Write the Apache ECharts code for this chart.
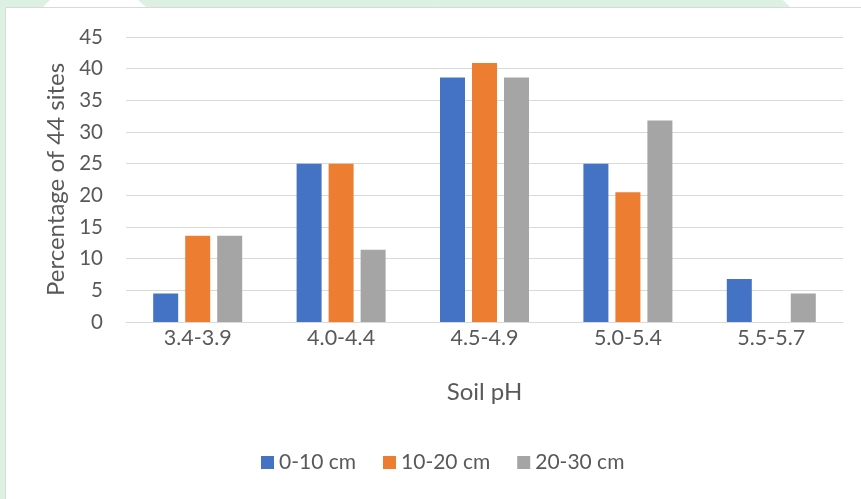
<!DOCTYPE html>
<html>
<head>
<meta charset="utf-8">
<script src="https://cdn.jsdelivr.net/npm/echarts@6/dist/echarts.min.js"></script>
<style>
  html, body { margin: 0; padding: 0; background: #ffffff; }
  #chart { width: 861px; height: 499px; }
</style>
</head>
<body>
<div id="chart"></div>
<script>
// Soil pH classes and share of the 44 sites (%) in each depth band
const categories = ['3.4-3.9', '4.0-4.4', '4.5-4.9', '5.0-5.4', '5.5-5.7'];
const depth0to10 = [4.5, 25.0, 38.6, 25.0, 6.8];
const depth10to20 = [13.6, 25.0, 40.9, 20.5, 0];
const depth20to30 = [13.6, 11.4, 38.6, 31.8, 4.5];
const seriesNames = ['0-10 cm', '10-20 cm', '20-30 cm'];
const yTicks = { min: 0, max: 45, interval: 5 };

const FONT = 'Lato, "Open Sans", sans-serif';
const TEXT = '#595959';
const LINE = '#d9d9d9';

const chart = echarts.init(document.getElementById('chart'), null, { renderer: 'canvas' });

chart.setOption({
  animation: false,
  backgroundColor: '#ffffff',
  color: ['#4472c4', '#ed7d31', '#a5a5a5'],
  graphic: [
    // page tint behind the chart frame
    { type: 'rect', z: -10, shape: { x: 0, y: 0, width: 5, height: 499 }, style: { fill: '#dcf1e1' } },
    { type: 'polygon', z: -10, shape: { points: [[0, 0], [50, 0], [43, 7], [0, 7]] }, style: { fill: '#dcf1e1' } },
    { type: 'polygon', z: -10, shape: { points: [[138, 0], [783, 0], [790, 7], [146, 7]] }, style: { fill: '#dcf1e1' } },
    // chart frame
    { type: 'rect', z: -5, shape: { x: 5.5, y: 7.5, width: 870, height: 500 }, style: { fill: '#ffffff', stroke: LINE, lineWidth: 1 } }
  ],
  grid: { left: 126, right: 18, top: 37, bottom: 177, containLabel: false },
  legend: {
    data: seriesNames,
    bottom: 21,
    left: 256,
    itemWidth: 13,
    itemHeight: 13,
    itemGap: 27,
    icon: 'rect',
    textStyle: { fontFamily: FONT, fontSize: 21, color: TEXT }
  },
  xAxis: {
    type: 'category',
    data: categories,
    name: 'Soil pH',
    nameLocation: 'middle',
    nameGap: 58,
    nameTextStyle: { fontFamily: FONT, fontSize: 24, color: TEXT },
    axisLine: { lineStyle: { color: LINE, width: 1 } },
    axisTick: { show: false },
    axisLabel: { fontFamily: FONT, fontSize: 21.5, color: TEXT, margin: 5 }
  },
  yAxis: {
    type: 'value',
    min: yTicks.min,
    max: yTicks.max,
    interval: yTicks.interval,
    name: 'Percentage of 44 sites',
    nameLocation: 'middle',
    nameGap: 57,
    nameTextStyle: { fontFamily: FONT, fontSize: 24, color: TEXT },
    axisLine: { show: false },
    axisTick: { show: false },
    axisLabel: { fontFamily: FONT, fontSize: 20.5, color: TEXT, margin: 23 },
    splitLine: { lineStyle: { color: LINE, width: 1 } }
  },
  series: [
    { name: seriesNames[0], type: 'bar', data: depth0to10, barWidth: 25, barGap: '28%' },
    { name: seriesNames[1], type: 'bar', data: depth10to20, barWidth: 25, barGap: '28%' },
    { name: seriesNames[2], type: 'bar', data: depth20to30, barWidth: 25, barGap: '28%' }
  ]
});
</script>
</body>
</html>
